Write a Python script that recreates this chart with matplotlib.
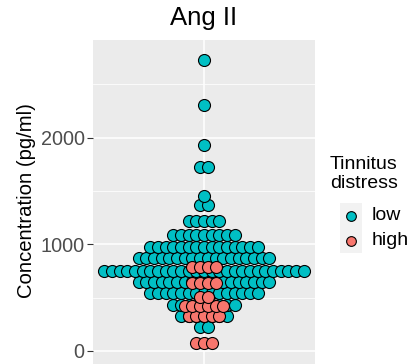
import numpy as np
import matplotlib
matplotlib.use("Agg")
import matplotlib.pyplot as plt
from matplotlib.patches import Rectangle

plt.rcParams['font.family'] = ['Liberation Sans', 'DejaVu Sans']

# Binned dot rows (bin centre value in pg/ml, number of dots)
low_values = [228, 331, 431, 541, 644, 750, 869, 978, 1092, 1221, 1368, 1450, 1728, 1931, 2306, 2728]
low_counts = [2, 7, 9, 15, 18, 27, 18, 15, 9, 5, 2, 1, 2, 1, 1, 1]
high_values = [78, 328, 422, 509, 640, 784]
high_counts = [3, 5, 6, 2, 4, 4]

groups = ["low", "high"]
colors = {"low": "#00BFC4", "high": "#F8766D"}
yticks = [0, 1000, 2000]
title = "Ang II"
ylabel = "Concentration (pg/ml)"
legend_title = "Tinnitus\ndistress"

W, H = 416, 364
fig = plt.figure(figsize=(W / 100, H / 100), dpi=100)
ax_l, ax_r, ax_t, ax_b = 93, 315, 40, 364
ax = fig.add_axes([ax_l / W, 1 - ax_b / H, (ax_r - ax_l) / W, (ax_b - ax_t) / H])
ax.set_facecolor("#EBEBEB")
xlim = (0.4, 1.6)
ylim = (-122, 2916)
ax.set_xlim(*xlim)
ax.set_ylim(*ylim)

# grid
for v in [500, 1500, 2500]:
    ax.axhline(v, color="white", lw=0.55, zorder=0)
for v in yticks:
    ax.axhline(v, color="white", lw=1.1, zorder=0)
ax.axvline(1, color="white", lw=1.1, zorder=0)

px_per_x = (ax_r - ax_l) / (xlim[1] - xlim[0])
dx = 7.67 / px_per_x
dot_pt = 12.0 * 72 / 100


def stack(values, counts):
    xs, ys = [], []
    for v, n in sorted(zip(values, counts)):
        offs = (np.arange(n) - (n - 1) / 2) * dx
        xs.extend(1 + offs)
        ys.extend([v] * n)
    return np.array(xs), np.array(ys)


for g, vals, cnts in [("low", low_values, low_counts), ("high", high_values, high_counts)]:
    xs, ys = stack(vals, cnts)
    ax.scatter(xs, ys, s=dot_pt ** 2, c=colors[g], edgecolors="black",
               linewidths=0.8, zorder=3, clip_on=False)

for s in ax.spines.values():
    s.set_visible(False)
ax.set_xticks([])
ax.set_yticks(yticks)
ax.set_yticklabels([str(t) for t in yticks], fontsize=14.3, color="#4D4D4D")
ax.tick_params(axis="y", length=4, width=0.8, color="#333333", pad=2)

fig.text((ax_l + ax_r) / 2 / W, 1 - 18 / H, title, ha="center", va="center", fontsize=18.5, color="black")
fig.text(27 / W, 1 - 201 / H, ylabel, ha="center", va="center", rotation=90, fontsize=14.6, color="black")

# legend
fig.text(330 / W, 1 - 174 / H, legend_title, ha="left", va="center", fontsize=14, color="black", linespacing=1.1)
key_w, key_h = 22, 25
key_x = 340
key_top = 203
for i, g in enumerate(groups):
    y0 = key_top + i * key_h
    fig.patches.append(Rectangle((key_x / W, 1 - (y0 + key_h) / H), key_w / W, key_h / H,
                                 transform=fig.transFigure, facecolor="#F2F2F2", edgecolor="none"))
    cy = y0 + key_h / 2
    fig.add_artist(plt.Line2D([(key_x + key_w / 2) / W], [1 - cy / H], marker="o", markersize=7.0,
                              markerfacecolor=colors[g], markeredgecolor="black", markeredgewidth=0.8,
                              linestyle="none", transform=fig.transFigure))
    fig.text((key_x + key_w + 10) / W, 1 - cy / H, g, ha="left", va="center", fontsize=14, color="black")

fig.savefig("out.png", dpi=100)
